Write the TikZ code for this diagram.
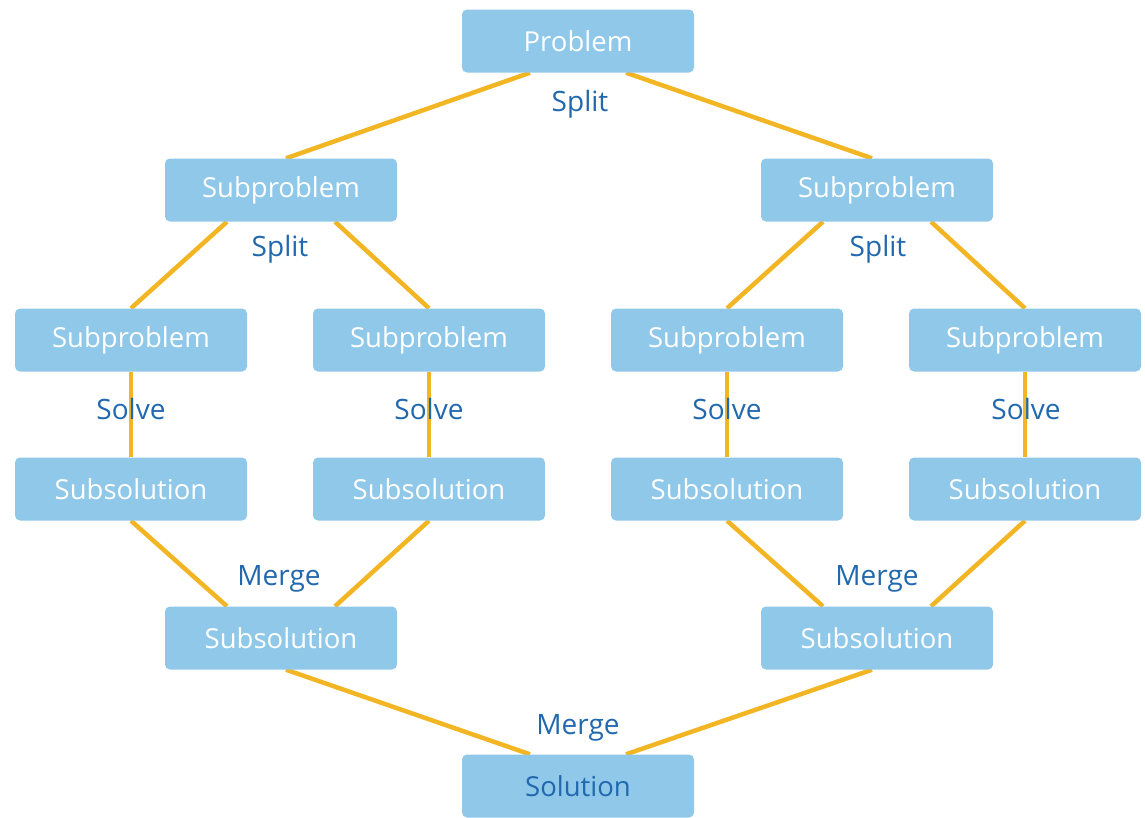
\documentclass[tikz,border=0pt]{standalone}
\usepackage{fontspec}
\setmainfont{Open Sans}
\usetikzlibrary{positioning, backgrounds}
\definecolor{boxblue}{HTML}{8FC8E8}
\definecolor{txtblue}{HTML}{2168AE}
\definecolor{linegold}{HTML}{F2B624}

\begin{document}
\begin{tikzpicture}[x=1pt, y=-1pt,
  box/.style={fill=boxblue, text=white, rounded corners=5pt, minimum width=232pt, minimum height=63pt, inner sep=0pt, font=\fontsize{27.5}{30}\selectfont},
  lbl/.style={text=txtblue, inner sep=0pt, font=\fontsize{28}{30}\selectfont},
  link/.style={draw=linegold, line width=4.5pt}]
\useasboundingbox (0,0) rectangle (1145,817);
\node[box] (prob) at (578,41) {Problem};
\node[box] (subL) at (281,190) {Subproblem};
\node[box] (subR) at (877,190) {Subproblem};
\node[box] (subLL) at (131,340) {Subproblem};
\node[box] (subLR) at (429,340) {Subproblem};
\node[box] (subRL) at (727,340) {Subproblem};
\node[box] (subRR) at (1025,340) {Subproblem};
\node[box] (solLL) at (131,489) {Subsolution};
\node[box] (solLR) at (429,489) {Subsolution};
\node[box] (solRL) at (727,489) {Subsolution};
\node[box] (solRR) at (1025,489) {Subsolution};
\node[box] (mrgL) at (281,638) {Subsolution};
\node[box] (mrgR) at (877,638) {Subsolution};
\node[box, text=txtblue] (sol) at (578,786) {Solution};

\node[lbl] (split1) at (580,104) {Split};
\node[lbl] (split2) at (280,249) {Split};
\node[lbl] (split3) at (878,249) {Split};
\node[lbl] (solve1) at (131,409) {Solve};
\node[lbl] (solve2) at (429,409) {Solve};
\node[lbl] (solve3) at (727,409) {Solve};
\node[lbl] (solve4) at (1026,409) {Solve};
\node[lbl] (merge1) at (279,579) {Merge};
\node[lbl] (merge2) at (877,579) {Merge};
\node[lbl] (merge3) at (578,728) {Merge};

\begin{pgfonlayer}{background}
\draw[link] ([xshift=-48pt]prob.south) -- ([xshift=5pt]subL.north);
\draw[link] ([xshift=48pt]prob.south) -- ([xshift=-5pt]subR.north);
\draw[link] ([xshift=-54pt]subL.south) -- (subLL.north);
\draw[link] ([xshift=54pt]subL.south) -- (subLR.north);
\draw[link] ([xshift=-54pt]subR.south) -- (subRL.north);
\draw[link] ([xshift=54pt]subR.south) -- (subRR.north);
\draw[link] (subLL) -- (solLL);
\draw[link] (subLR) -- (solLR);
\draw[link] (subRL) -- (solRL);
\draw[link] (subRR) -- (solRR);
\draw[link] (solLL.south) -- ([xshift=-54pt]mrgL.north);
\draw[link] (solLR.south) -- ([xshift=54pt]mrgL.north);
\draw[link] (solRL.south) -- ([xshift=-54pt]mrgR.north);
\draw[link] (solRR.south) -- ([xshift=54pt]mrgR.north);
\draw[link] ([xshift=5pt]mrgL.south) -- ([xshift=-48pt]sol.north);
\draw[link] ([xshift=-5pt]mrgR.south) -- ([xshift=48pt]sol.north);
\end{pgfonlayer}
\end{tikzpicture}
\end{document}
